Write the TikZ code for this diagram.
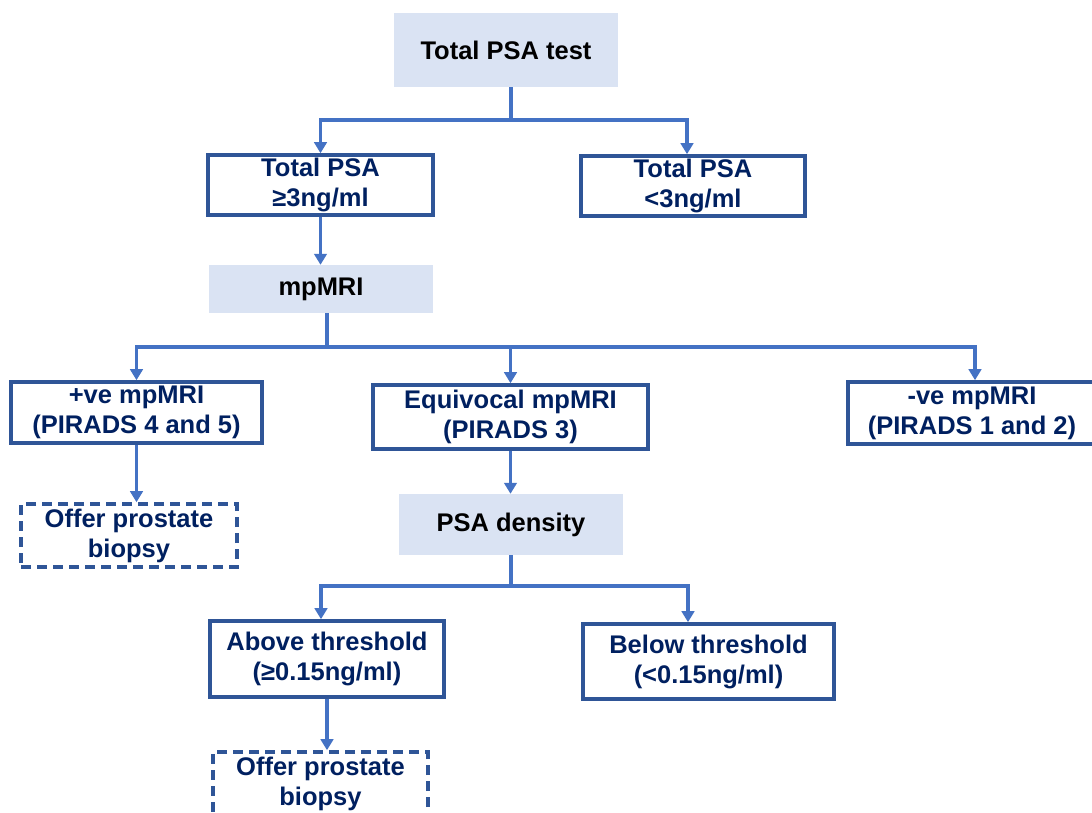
\documentclass[tikz,border=0pt]{standalone}
\usepackage{fontspec}
\setmainfont{Liberation Sans}
\usetikzlibrary{arrows.meta,calc}
\definecolor{boxline}{HTML}{2F5597}
\definecolor{conn}{HTML}{4472C4}
\definecolor{navy}{HTML}{002060}
\definecolor{lightfill}{HTML}{DAE3F3}
\tikzset{
  base/.style={font=\bfseries\fontsize{25.5}{30}\selectfont, align=center, inner sep=0pt, anchor=center},
  filledbox/.style={base, fill=lightfill, text=black},
  outbox/.style={base, draw=boxline, line width=3.6pt, text=navy},
  dashbox/.style={outbox, dash pattern=on 10pt off 6pt},
  conline/.style={draw=conn, line width=3.8pt},
  arr/.style={conline, -{Triangle[width=12.5pt,length=11pt]}},
}
\begin{document}
\begin{tikzpicture}[x=1pt,y=-1pt]
\useasboundingbox (0,0) rectangle (1092,813);
\clip (0,0) rectangle (1092,813);
\fill[white] (0,0) rectangle (1092,813);

\node[filledbox, minimum width=224pt, minimum height=74pt] (top) at (506,50) {Total PSA test};
\node[outbox, minimum width=225pt, minimum height=60pt] (tpsa1) at (320.5,185) {Total PSA\\≥3ng/ml};
\node[outbox, minimum width=224pt, minimum height=60pt] (tpsa2) at (693,186) {Total PSA\\<3ng/ml};
\node[filledbox, minimum width=224pt, minimum height=48pt] (mpmri) at (321,289) {mpMRI};
\node[outbox, minimum width=251pt, minimum height=61pt] (pos) at (136.5,412.5) {+ve mpMRI\\(PIRADS 4 and 5)};
\node[outbox, minimum width=275pt, minimum height=64pt] (equiv) at (510.5,417) {Equivocal mpMRI\\(PIRADS 3)};
\node[outbox, minimum width=248pt, minimum height=62pt] (neg) at (972,413) {-ve mpMRI\\(PIRADS 1 and 2)};
\node[dashbox, minimum width=216pt, minimum height=63pt] (off1) at (129,535.5) {Offer prostate\\biopsy};
\node[filledbox, minimum width=224pt, minimum height=61pt] (psad) at (511,524.5) {PSA density};
\node[outbox, minimum width=234pt, minimum height=76pt] (above) at (327,659) {Above threshold\\(≥0.15ng/ml)};
\node[outbox, minimum width=251pt, minimum height=75pt] (below) at (708.5,661.5) {Below threshold\\(<0.15ng/ml)};
\node[dashbox, minimum width=215pt, minimum height=64pt] (off2) at (320.5,784) {Offer prostate\\biopsy};

% level 1
\coordinate (j1) at (511,120);
\draw[conline] (top.south -| j1) -- (j1);
\draw[arr] (j1) -| (tpsa1.north);
\draw[arr] (j1) -| ($(tpsa2.north)+(-6,0)$);
\draw[arr] (tpsa1.south) -- (mpmri.north -| tpsa1.south);

% level 2
\coordinate (j2) at (327,347);
\draw[conline] (mpmri.south -| j2) -- (j2);
\draw[arr] (j2) -| (pos.north);
\draw[arr] (j2) -| (equiv.north);
\draw[arr] (j2) -| ($(neg.north)+(3,0)$);
\draw[arr] (pos.south) -- (off1.north -| pos.south);
\draw[arr] (equiv.south) -- (psad.north -| equiv.south);

% level 3
\coordinate (j3) at (511,586);
\draw[conline] (psad.south -| j3) -- (j3);
\draw[arr] (j3) -| ($(above.north)+(-6,0)$);
\draw[arr] (j3) -| ($(below.north)+(-20.5,0)$);
\draw[arr] (above.south) -- (off2.north -| above.south);
\end{tikzpicture}
\end{document}
